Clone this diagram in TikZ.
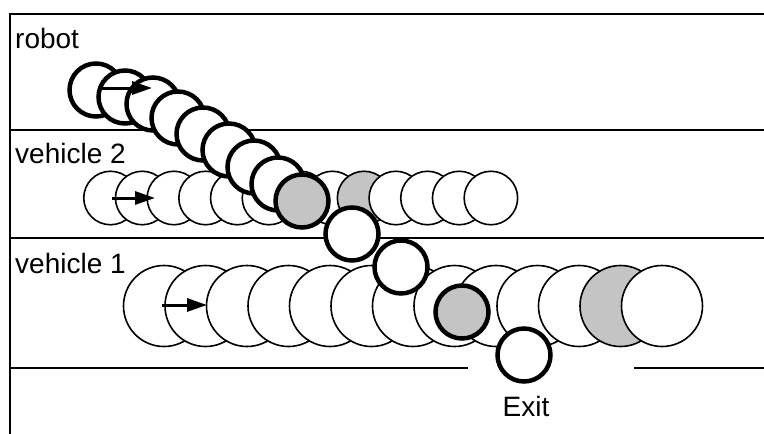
\documentclass[tikz,border=0pt]{standalone}
\usepackage{fontspec}
\setmainfont{Liberation Sans}
\usetikzlibrary{arrows.meta}
\definecolor{dotgray}{HTML}{C4C4C4}
\tikzset{
  lane/.style={line width=2.8pt},
  lanename/.style={anchor=base west,inner sep=0pt,font=\fontsize{28}{33}\selectfont},
  car/.style={circle,draw,line width=1.6pt,fill=white,inner sep=0pt},
  bot/.style={circle,draw,line width=4.5pt,fill=white,inner sep=0pt,minimum size=53pt},
  arrow/.style={-{Triangle[length=20pt,width=13pt]},line width=3pt}
}

\begin{document}
\begin{tikzpicture}[x=1pt,y=-1pt]
\useasboundingbox (0,0) rectangle (764,434);
% lanes
\draw[lane] (10,434) -- (10,14) -- (764,14);
\draw[lane] (10,130) -- (764,130);
\draw[lane] (10,238) -- (764,238);
\draw[lane] (10,368) -- (468,368);
\draw[lane] (634,368) -- (764,368);
\node[lanename] (robot) at (15,48) {robot};
\node[lanename] (veh2) at (15,163) {vehicle 2};
\node[lanename] (veh1) at (15,273) {vehicle 1};
\node[lanename,anchor=base] (exit) at (526,416) {Exit};
% vehicle 2
\foreach \i in {0,...,12}{
  \ifnum\i=8 \def\f{dotgray}\else\def\f{white}\fi
  \node[car,minimum size=53.5pt,fill=\f] (vb-\i) at ({110.5+31.7*\i},198) {};
}
% vehicle 1
\foreach \i in {0,...,12}{
  \ifnum\i=11 \def\f{dotgray}\else\def\f{white}\fi
  \node[car,minimum size=81pt,fill=\f] (va-\i) at ({164+41.5*\i},306) {};
}
% robot
\foreach \x/\y/\f [count=\n] in {96/90/white,125/97/white,153/104/white,178/118/white,
  203/134/white,229/150/white,254/167/white,278/184/white,302/201/dotgray,
  352/234/white,401/267/white,462/312/dotgray,524/355/white}
  \node[bot,fill=\f] (r-\n) at (\x,\y) {};
% headings
\coordinate (r-tail) at (100,88);
\coordinate (r-head) at (152,88);
\coordinate (vb-tail) at (112,198);
\coordinate (vb-head) at (155,198);
\coordinate (va-tail) at (162,305);
\coordinate (va-head) at (207,305);
\draw[arrow] (r-tail) -- (r-head);
\draw[arrow] (vb-tail) -- (vb-head);
\draw[arrow] (va-tail) -- (va-head);
\end{tikzpicture}
\end{document}
